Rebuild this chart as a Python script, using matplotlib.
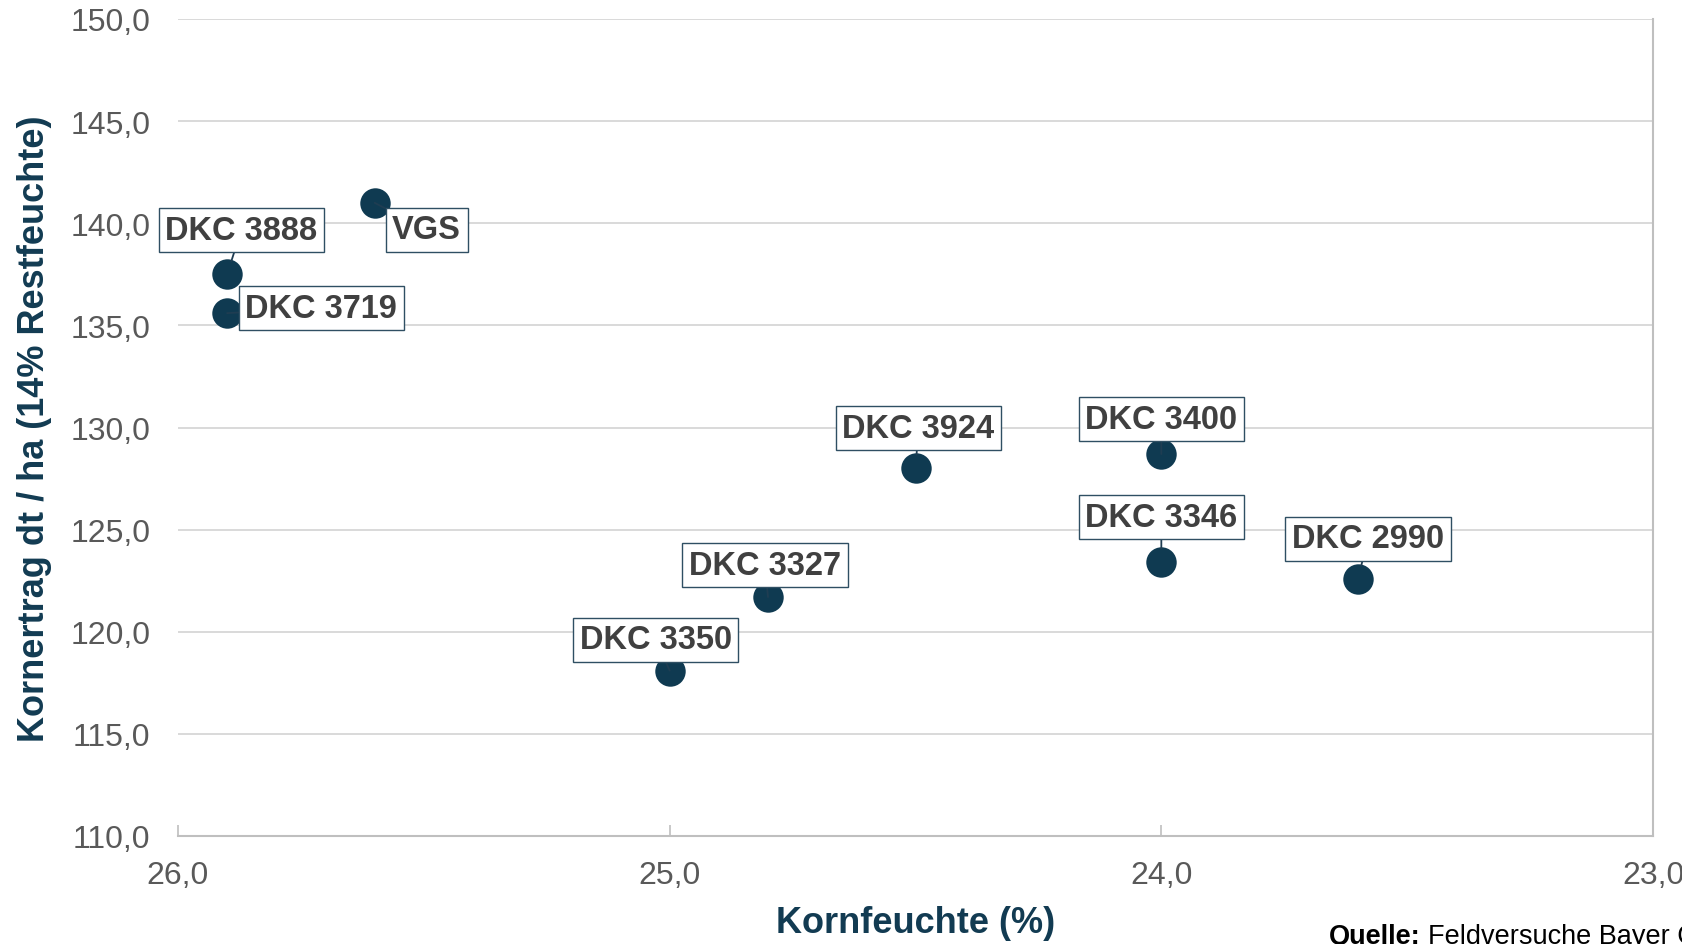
import matplotlib
matplotlib.use("Agg")
import matplotlib.pyplot as plt
from matplotlib.ticker import FuncFormatter, MultipleLocator

plt.rcParams["font.family"] = ["Liberation Sans", "DejaVu Sans"]

# data
varieties = ["VGS", "DKC 3888", "DKC 3719", "DKC 3924", "DKC 3400",
             "DKC 3346", "DKC 2990", "DKC 3327", "DKC 3350"]
kornfeuchte = [25.60, 25.90, 25.90, 24.50, 24.00, 24.00, 23.60, 24.80, 25.00]
kornertrag = [141.0, 137.5, 135.6, 128.0, 128.7, 123.4, 122.6, 121.7, 118.1]

# label placement (offset of label centre from point, in pixels)
label_offsets = [(52, -27), (14, 44), (94, 5), (3, 40), (0, 35),
                 (0, 45), (10, 40), (-3, 32), (-14, 31)]

dark = "#123b52"
grey_axis = "#bfbfbf"
grey_grid = "#d9d9d9"
tick_col = "#595959"

fig = plt.figure(figsize=(16.83, 9.45), dpi=100)
ax = fig.add_axes([178 / 1683, 1 - 837 / 945, (1653 - 178) / 1683, (837 - 20) / 945])

ax.scatter(kornfeuchte, kornertrag, s=480, color="#0f3a51", zorder=2,
           linewidths=0)

for name, x, y, (dx, dy) in zip(varieties, kornfeuchte, kornertrag, label_offsets):
    ax.annotate(
        name, xy=(x, y), xytext=(dx, dy), textcoords="offset pixels",
        ha="center", va="center", fontsize=23.5, fontweight="bold",
        color="#404040", zorder=4,
        bbox=dict(boxstyle="square,pad=0.2", facecolor="white",
                  edgecolor="#2f4f63", linewidth=1.0),
        arrowprops=dict(arrowstyle="-", color="#1f3d52", lw=1.3,
                        shrinkA=0, shrinkB=10),
    )

ax.set_xlim(26, 23)
ax.set_ylim(110, 150)
ax.xaxis.set_major_locator(MultipleLocator(1))
ax.yaxis.set_major_locator(MultipleLocator(5))
fmt = FuncFormatter(lambda v, p: f"{v:.1f}".replace(".", ","))
ax.xaxis.set_major_formatter(fmt)
ax.yaxis.set_major_formatter(fmt)

ax.grid(axis="y", color=grey_grid, linewidth=1.4, zorder=0)
ax.set_axisbelow(True)
for side in ["top", "left"]:
    ax.spines[side].set_visible(False)
for side in ["bottom", "right"]:
    ax.spines[side].set_color(grey_axis)
    ax.spines[side].set_linewidth(1.5)

ax.tick_params(axis="x", direction="in", length=8, width=1.2, color=grey_axis,
               labelsize=23, labelcolor=tick_col, pad=17)
ax.tick_params(axis="y", length=0, labelsize=23, labelcolor=tick_col, pad=20)

ax.set_xlabel("Kornfeuchte (%)", fontsize=26, fontweight="bold", color=dark,
              labelpad=11)
ax.set_ylabel("Kornertrag dt / ha (14% Restfeuchte)", fontsize=26,
              fontweight="bold", color=dark, labelpad=13)

fig.text(1329 / 1683, 1 - 924 / 945, "Quelle:", fontsize=19.5,
         fontweight="bold", color="black", ha="left", va="top")
fig.text(1428 / 1683, 1 - 924 / 945, "Feldversuche Bayer Crop Science",
         fontsize=19.5, color="black", ha="left", va="top")

fig.savefig("out.png", dpi=100)
